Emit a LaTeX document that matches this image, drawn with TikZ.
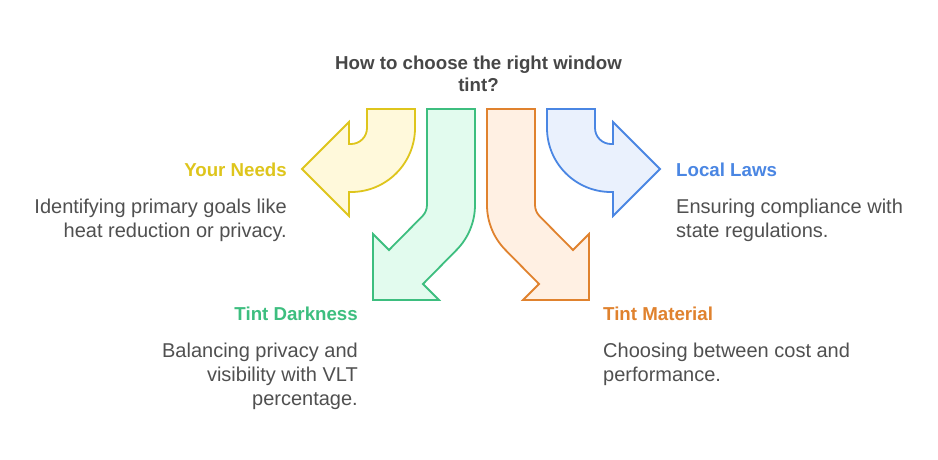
\documentclass[tikz,border=0pt]{standalone}
\usepackage{fontspec}
\setmainfont{Liberation Sans}
\usepackage{xcolor}
\usepackage{tikz}
\usetikzlibrary{positioning}
\definecolor{needsline}{HTML}{DEC51C}
\definecolor{needsfill}{HTML}{FFF9DB}
\definecolor{darkline}{HTML}{3DBE7F}
\definecolor{darkfill}{HTML}{E2FBEE}
\definecolor{materialline}{HTML}{E0822E}
\definecolor{materialfill}{HTML}{FFF0E3}
\definecolor{lawsline}{HTML}{4A86E3}
\definecolor{lawsfill}{HTML}{EAF1FD}
\definecolor{titlegray}{HTML}{474747}
\definecolor{bodygray}{HTML}{505050}

\begin{document}
\begin{tikzpicture}[x=1pt, y=-1pt,
    bentarrow/.style={line width=1.8pt, line join=miter},
    heading/.style={font=\fontsize{18.7}{22}\selectfont\bfseries, inner sep=0pt},
    bodytext/.style={font=\fontsize{20}{24}\selectfont, text=bodygray, inner sep=0pt}]

    \useasboundingbox [fill=white] (0,0) rectangle (938,459);

    % Title
    \node (title) [heading, text=titlegray, align=center, anchor=north]
      at (478.5,55.5) {How to choose the right window\\tint?};

    % Arrows
    \draw [bentarrow, draw=needsline, fill=needsfill]
      (367,109) -- (415,109) -- (415,128) arc[start angle=0, end angle=90, radius=64]
      -- (349,192) -- (349,216) -- (302,169) -- (349,122) -- (349,144) -- (351,144)
      arc[start angle=90, end angle=0, radius=16] -- cycle;
    \draw [bentarrow, draw=darkline, fill=darkfill]
      (427,109) -- (475,109) -- (475,205) arc[start angle=0, end angle=45, radius=64]
      -- (423,284) -- (439,300) -- (373,300) -- (373,234) -- (389,250) -- (422.3,216.3)
      arc[start angle=45, end angle=0, radius=16] -- cycle;
    \draw [bentarrow, draw=materialline, fill=materialfill]
      (535,109) -- (487,109) -- (487,205) arc[start angle=180, end angle=135, radius=64]
      -- (539,284) -- (523,300) -- (589,300) -- (589,234) -- (573,250) -- (539.7,216.3)
      arc[start angle=135, end angle=180, radius=16] -- cycle;
    \draw [bentarrow, draw=lawsline, fill=lawsfill]
      (595,109) -- (547,109) -- (547,128) arc[start angle=180, end angle=90, radius=64]
      -- (613,192) -- (613,216) -- (660,169) -- (613,122) -- (613,144) -- (611,144)
      arc[start angle=90, end angle=180, radius=16] -- cycle;

    % Labels
    \node (needs) [heading, text=needsline, anchor=base east] at (287,176) {Your Needs};
    \node (needsdesc) [bodytext, align=right, anchor=north east] at (287,198.5)
      {Identifying primary goals like\\heat reduction or privacy.};
    \node (darkness) [heading, text=darkline, anchor=base east] at (358,320) {Tint Darkness};
    \node (darknessdesc) [bodytext, align=right, anchor=north east] at (358,342.5)
      {Balancing privacy and\\visibility with VLT\\percentage.};
    \node (material) [heading, text=materialline, anchor=base west] at (603,320) {Tint Material};
    \node (materialdesc) [bodytext, align=left, anchor=north west] at (603,342.5)
      {Choosing between cost and\\performance.};
    \node (laws) [heading, text=lawsline, anchor=base west] at (676,176) {Local Laws};
    \node (lawsdesc) [bodytext, align=left, anchor=north west] at (676,198.5)
      {Ensuring compliance with\\state regulations.};
\end{tikzpicture}
\end{document}
